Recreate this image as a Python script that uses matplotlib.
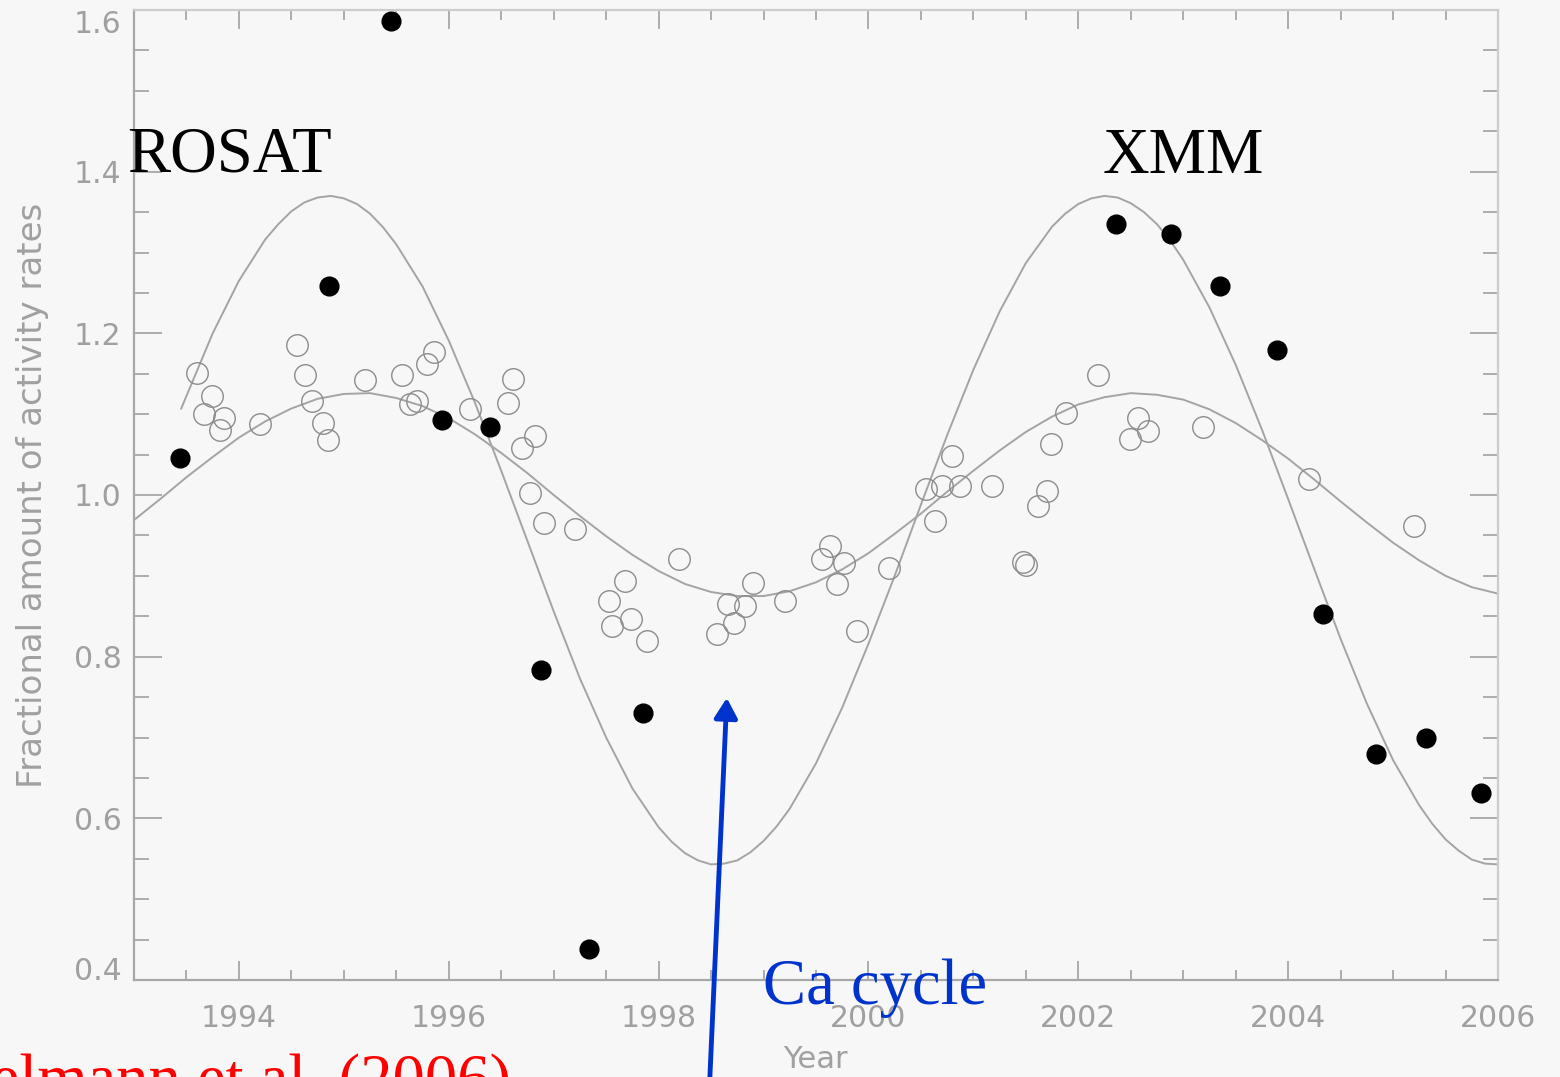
import matplotlib.pyplot as plt
import numpy as np

# ---- Data ----
# X-ray measurements (filled) and Ca II activity (open)
xray_year = [1993.44, 1994.86, 1995.45, 1995.94, 1996.39, 1996.88, 1997.34, 1997.85,
             2002.36, 2002.88, 2003.35, 2003.89, 2004.33, 2004.84, 2005.31, 2005.84]
xray_rate = [1.046, 1.258, 1.586, 1.093, 1.084, 0.783, 0.438, 0.730,
             1.335, 1.323, 1.259, 1.180, 0.853, 0.680, 0.700, 0.631]

ca_year = [1993.60, 1993.67, 1993.74, 1993.86, 1993.82, 1994.20, 1994.55, 1994.63,
           1994.70, 1994.80, 1994.85, 1995.20, 1995.55, 1995.63, 1995.70, 1995.79,
           1995.86, 1996.20, 1996.56, 1996.61, 1996.70, 1996.82, 1996.77, 1996.91,
           1997.20, 1997.53, 1997.56, 1997.68, 1997.74, 1997.89, 1998.19, 1998.56,
           1998.66, 1998.72, 1998.82, 1998.90, 1999.20, 1999.56, 1999.63, 1999.77,
           1999.70, 1999.89, 2000.20, 2000.55, 2000.63, 2000.70, 2000.80, 2000.87,
           2001.18, 2001.47, 2001.50, 2001.62, 2001.70, 2001.74, 2001.88, 2002.19,
           2002.49, 2002.57, 2002.66, 2003.19, 2004.20, 2005.20]
ca_rate = [1.151, 1.100, 1.122, 1.095, 1.080, 1.088, 1.186, 1.149,
           1.116, 1.089, 1.068, 1.142, 1.149, 1.112, 1.116, 1.162,
           1.177, 1.107, 1.114, 1.144, 1.058, 1.073, 1.002, 0.965,
           0.958, 0.869, 0.838, 0.894, 0.847, 0.820, 0.921, 0.828,
           0.865, 0.842, 0.863, 0.891, 0.869, 0.921, 0.937, 0.916,
           0.890, 0.832, 0.910, 1.007, 0.968, 1.011, 1.048, 1.011,
           1.011, 0.917, 0.914, 0.986, 1.005, 1.063, 1.101, 1.149,
           1.069, 1.095, 1.079, 1.084, 1.020, 0.962]

# cycle fit through the X-ray points
xfit_year = [1993.45, 1993.75, 1994.0, 1994.25, 1994.375, 1994.5, 1994.625, 1994.75,
             1994.875, 1995.0, 1995.125, 1995.25, 1995.375, 1995.5, 1995.75, 1996.0,
             1996.25, 1996.5, 1996.75, 1997.0, 1997.25, 1997.5, 1997.75, 1998.0,
             1998.125, 1998.25, 1998.375, 1998.5, 1998.625, 1998.75, 1998.875, 1999.0,
             1999.125, 1999.25, 1999.5, 1999.75, 2000.0, 2000.25, 2000.5, 2000.75,
             2001.0, 2001.25, 2001.5, 2001.75, 2001.875, 2002.0, 2002.125, 2002.25,
             2002.375, 2002.5, 2002.625, 2002.75, 2002.875, 2003.0, 2003.25, 2003.5,
             2003.75, 2004.0, 2004.25, 2004.5, 2004.75, 2005.0, 2005.25, 2005.375,
             2005.5, 2005.625, 2005.75, 2005.875, 2006.0]
xfit_rate = [1.107, 1.200, 1.265, 1.316, 1.335, 1.351, 1.362, 1.368,
             1.370, 1.367, 1.360, 1.348, 1.331, 1.310, 1.258, 1.191,
             1.114, 1.030, 0.943, 0.856, 0.773, 0.700, 0.637, 0.589,
             0.571, 0.557, 0.548, 0.543, 0.544, 0.548, 0.558, 0.572,
             0.590, 0.612, 0.668, 0.737, 0.816, 0.900, 0.988, 1.074,
             1.155, 1.227, 1.287, 1.332, 1.348, 1.360, 1.367, 1.370,
             1.368, 1.361, 1.350, 1.335, 1.315, 1.291, 1.232, 1.161,
             1.081, 0.995, 0.908, 0.822, 0.742, 0.672, 0.616, 0.593,
             0.574, 0.560, 0.549, 0.544, 0.543]

# cycle fit through the Ca points
cafit_year = [1993.0, 1993.25, 1993.5, 1993.75, 1994.0, 1994.25, 1994.5, 1994.75,
              1995.0, 1995.25, 1995.5, 1995.75, 1996.0, 1996.25, 1996.5, 1996.75,
              1997.0, 1997.25, 1997.5, 1997.75, 1998.0, 1998.25, 1998.5, 1998.75,
              1999.0, 1999.25, 1999.5, 1999.75, 2000.0, 2000.25, 2000.5, 2000.75,
              2001.0, 2001.25, 2001.5, 2001.75, 2002.0, 2002.25, 2002.5, 2002.75,
              2003.0, 2003.25, 2003.5, 2003.75, 2004.0, 2004.25, 2004.5, 2004.75,
              2005.0, 2005.25, 2005.5, 2005.75, 2006.0]
cafit_rate = [0.969, 0.995, 1.022, 1.047, 1.071, 1.091, 1.107, 1.119,
              1.125, 1.126, 1.120, 1.110, 1.095, 1.075, 1.052, 1.027,
              1.000, 0.974, 0.949, 0.926, 0.906, 0.890, 0.880, 0.875,
              0.875, 0.881, 0.892, 0.908, 0.928, 0.952, 0.977, 1.004,
              1.030, 1.055, 1.078, 1.097, 1.112, 1.121, 1.126, 1.124,
              1.118, 1.106, 1.089, 1.068, 1.045, 1.019, 0.992, 0.966,
              0.941, 0.919, 0.900, 0.886, 0.878]

# ---- Plot ----
bg = "#f7f7f7"
grey = "#a0a0a0"
blue = "#0033cc"

fig = plt.figure(figsize=(15.6, 10.77), dpi=100, facecolor=bg)
ax = fig.add_axes([134 / 1560, 1 - 980 / 1077, 1364 / 1560, 970 / 1077], facecolor=bg)

ax.plot(xfit_year, xfit_rate, color="#a4a4a4", lw=1.4, solid_joinstyle="round")
ax.plot(cafit_year, cafit_rate, color="#a4a4a4", lw=1.4, solid_joinstyle="round")
ax.plot(ca_year, ca_rate, "o", ms=15.5, mfc="none", mec="#8c8c8c", mew=1.0)
ax.plot(xray_year, xray_rate, "o", ms=13.5, color="black")

ax.set_xlim(1993, 2006)
ax.set_ylim(0.4, 1.6)
ax.set_xticks(np.arange(1994, 2007, 2))
ax.set_xticks(np.arange(1993, 2006.1, 0.5), minor=True)
ax.set_yticks(np.arange(0.4, 1.61, 0.2))
ax.set_yticks(np.arange(0.4, 1.61, 0.05), minor=True)
ax.set_yticklabels([f"{v:.1f}" for v in np.arange(0.4, 1.61, 0.2)])

for side in ["left", "bottom"]:
    ax.spines[side].set_color("#a8a8a8")
    ax.spines[side].set_linewidth(1.6)
for side in ["top", "right"]:
    ax.spines[side].set_color("#cccccc")
    ax.spines[side].set_linewidth(1.6)

ax.tick_params(axis="both", which="both", direction="in", top=True, right=True,
               color=grey, labelcolor=grey, labelsize=21.5, width=1.2)
ax.tick_params(axis="x", which="major", length=14, pad=17)
ax.tick_params(axis="x", which="minor", length=7)
ax.tick_params(axis="y", which="major", length=20, pad=9)
ax.tick_params(axis="y", which="minor", length=11)

ylabels = ax.get_yticklabels()
ylabels[0].set_verticalalignment("baseline")
ylabels[-1].set_verticalalignment("top")

fig.text(815 / 1560, 1 - 1060 / 1077, "Year", ha="center", va="center",
         color=grey, fontsize=22)
fig.text(33 / 1560, 1 - 495 / 1077, "Fractional amount of activity rates",
         rotation=90, ha="center", va="center", color=grey, fontsize=24.5)

# labels on top
serif = "Liberation Serif"
fig.text(127 / 1560, 1 - 172 / 1077, "ROSAT", family=serif, fontsize=46.5,
         va="baseline", ha="left", color="black")
fig.text(1103 / 1560, 1 - 173 / 1077, "XMM", family=serif, fontsize=46.5,
         va="baseline", ha="left", color="black")
fig.text(763 / 1560, 1 - 1004 / 1077, "Ca cycle", family=serif, fontsize=46.5,
         va="baseline", ha="left", color=blue)
fig.text(511 / 1560, 1 - 1099 / 1077, "Hempelmann et al. (2006)", family=serif,
         fontsize=46.5, va="baseline", ha="right", color="red")

ax.annotate("", xy=(1998.65, 0.749), xytext=(1998.48, 0.255),
            arrowprops=dict(arrowstyle="-|>,head_length=0.6,head_width=0.35",
                            color=blue, lw=3.5, mutation_scale=20,
                            shrinkA=0, shrinkB=0),
            annotation_clip=False)

fig.savefig("out.png", dpi=100, facecolor=bg)
